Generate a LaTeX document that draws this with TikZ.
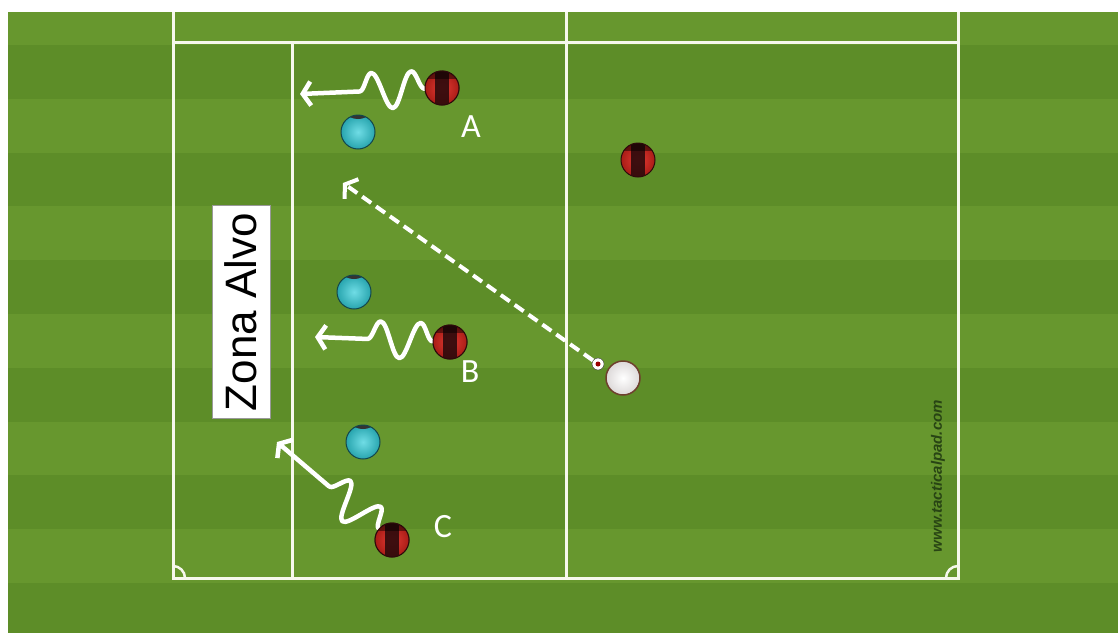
\documentclass[tikz,border=0pt]{standalone}
\usepackage{fontspec}
\setmainfont{Liberation Sans}
\newfontfamily\letterfont{Carlito}
\usetikzlibrary{arrows.meta, decorations.pathmorphing, positioning}
\definecolor{grasslight}{RGB}{103,151,46}
\definecolor{grassdark}{RGB}{93,141,40}
\definecolor{chalk}{RGB}{246,248,236}
\definecolor{milanred}{RGB}{226,38,30}
\definecolor{milanblack}{RGB}{45,10,12}
\definecolor{keepcyan}{RGB}{50,206,218}
\definecolor{keepdark}{RGB}{20,70,76}
\definecolor{passrim}{RGB}{110,64,46}
\definecolor{markgreen}{RGB}{40,68,20}
\tikzset{
  fieldline/.style={draw=chalk,line width=3pt},
  redplayer/.style={circle,minimum size=34pt,inner sep=0pt,draw=milanblack,line width=1pt,
    inner color=milanred!90!white,outer color=milanred!75!black,
    path picture={
      \fill[milanblack,opacity=0.9] ([xshift=-7pt]path picture bounding box.north)
        rectangle ([xshift=7pt]path picture bounding box.south);
      \fill[black,opacity=0.45] (path picture bounding box.north west)
        rectangle ([yshift=-8pt]path picture bounding box.north east);}},
  keeper/.style={circle,minimum size=34pt,inner sep=0pt,draw=keepdark,line width=1pt,
    inner color=keepcyan!70!white,outer color=keepcyan!80!black,
    path picture={
      \fill[black!80] ([yshift=1pt]path picture bounding box.north) ellipse [x radius=10pt,y radius=5pt];}},
  passer/.style={circle,minimum size=34pt,inner sep=0pt,draw=passrim,line width=1.5pt,
    inner color=white,outer color=red!10!black!15!white},
  ballnode/.style={circle,minimum size=12pt,inner sep=0pt,draw=black!80,fill=white,
    path picture={\fill[red!60!black] (path picture bounding box.center) circle (2.5pt);}},
  tag/.style={text=white,font=\letterfont\fontsize{34}{34}\selectfont},
  zonebox/.style={rotate=90,fill=white,draw=black!40,line width=0.8pt,minimum width=213pt,
    minimum height=58pt,inner sep=0pt,font=\fontsize{44}{44}\selectfont},
  runarr/.style={draw=white,line width=4.5pt,line cap=round,line join=round,
    -{Straight Barb[length=8pt,width=24pt]},decorate,
    decoration={snake,mirror,amplitude=18pt,segment length=40pt,post length=#1}},
  passarr/.style={draw=white,line width=4pt,dash pattern=on 11pt off 6pt,
    -{Straight Barb[length=8pt,width=24pt]}}
}

\begin{document}
\begin{tikzpicture}[x=1pt,y=-1pt]
  \useasboundingbox (0,0) rectangle (1118,632);

  %% grass with mown bands
  \begin{scope}
    \clip (8,12) rectangle (1118,632);
    \fill[grasslight] (8,12) rectangle (1118,632);
    \foreach \k in {0,2,...,10}
      \fill[grassdark] (8,{45+53.8*\k}) rectangle (1118,{45+53.8*(\k+1)});
  \end{scope}

  %% pitch markings
  \draw[fieldline] (173,12) -- (173,578) -- (958,578) -- (958,12);
  \draw[fieldline] (173,42) -- (958,42);
  \draw[fieldline] (566,12) -- (566,578);
  \draw[fieldline] (292,42) -- (292,578);
  \draw[fieldline,line width=2.5pt] (173,566) arc[start angle=-90,end angle=0,radius=12];
  \draw[fieldline,line width=2.5pt] (946,578) arc[start angle=180,end angle=270,radius=12];

  %% target zone
  \node[zonebox] (zone) at (241,312) {Zona Alvo};

  %% players
  \node[redplayer] (rA) at (442,88) {};
  \node[redplayer] (rB) at (450,342) {};
  \node[redplayer] (rC) at (392,540) {};
  \node[redplayer] (rD) at (638,160) {};
  \node[keeper] (kA) at (358,132) {};
  \node[keeper] (kB) at (354,292) {};
  \node[keeper] (kC) at (363,442) {};
  \node[passer] (pw) at (623,378) {};
  \node[ballnode] (ball) at (598,364) {};

  %% runs and pass
  \coordinate (endA) at (300,94);
  \coordinate (endB) at (315,337);
  \coordinate (endC) at (277,442);
  \coordinate (endP) at (343,183);
  \draw[passarr] (ball) -- (endP);
  \draw[runarr=48pt] (rA) -- (endA);
  \draw[runarr=45pt] (rB) -- (endB);
  \draw[runarr=55pt] (rC) -- (endC);
  \node[redplayer] at (rA) {};
  \node[redplayer] at (rB) {};
  \node[redplayer] at (rC) {};

  %% run labels
  \node[tag] (lA) at (471,127) {A};
  \node[tag] (lB) at (470,372) {B};
  \node[tag] (lC) at (443,527) {C};

  \node[rotate=90,text=markgreen,font=\fontsize{15}{15}\selectfont\bfseries\itshape] (mark)
    at (938,476) {www.tacticalpad.com};
\end{tikzpicture}
\end{document}
